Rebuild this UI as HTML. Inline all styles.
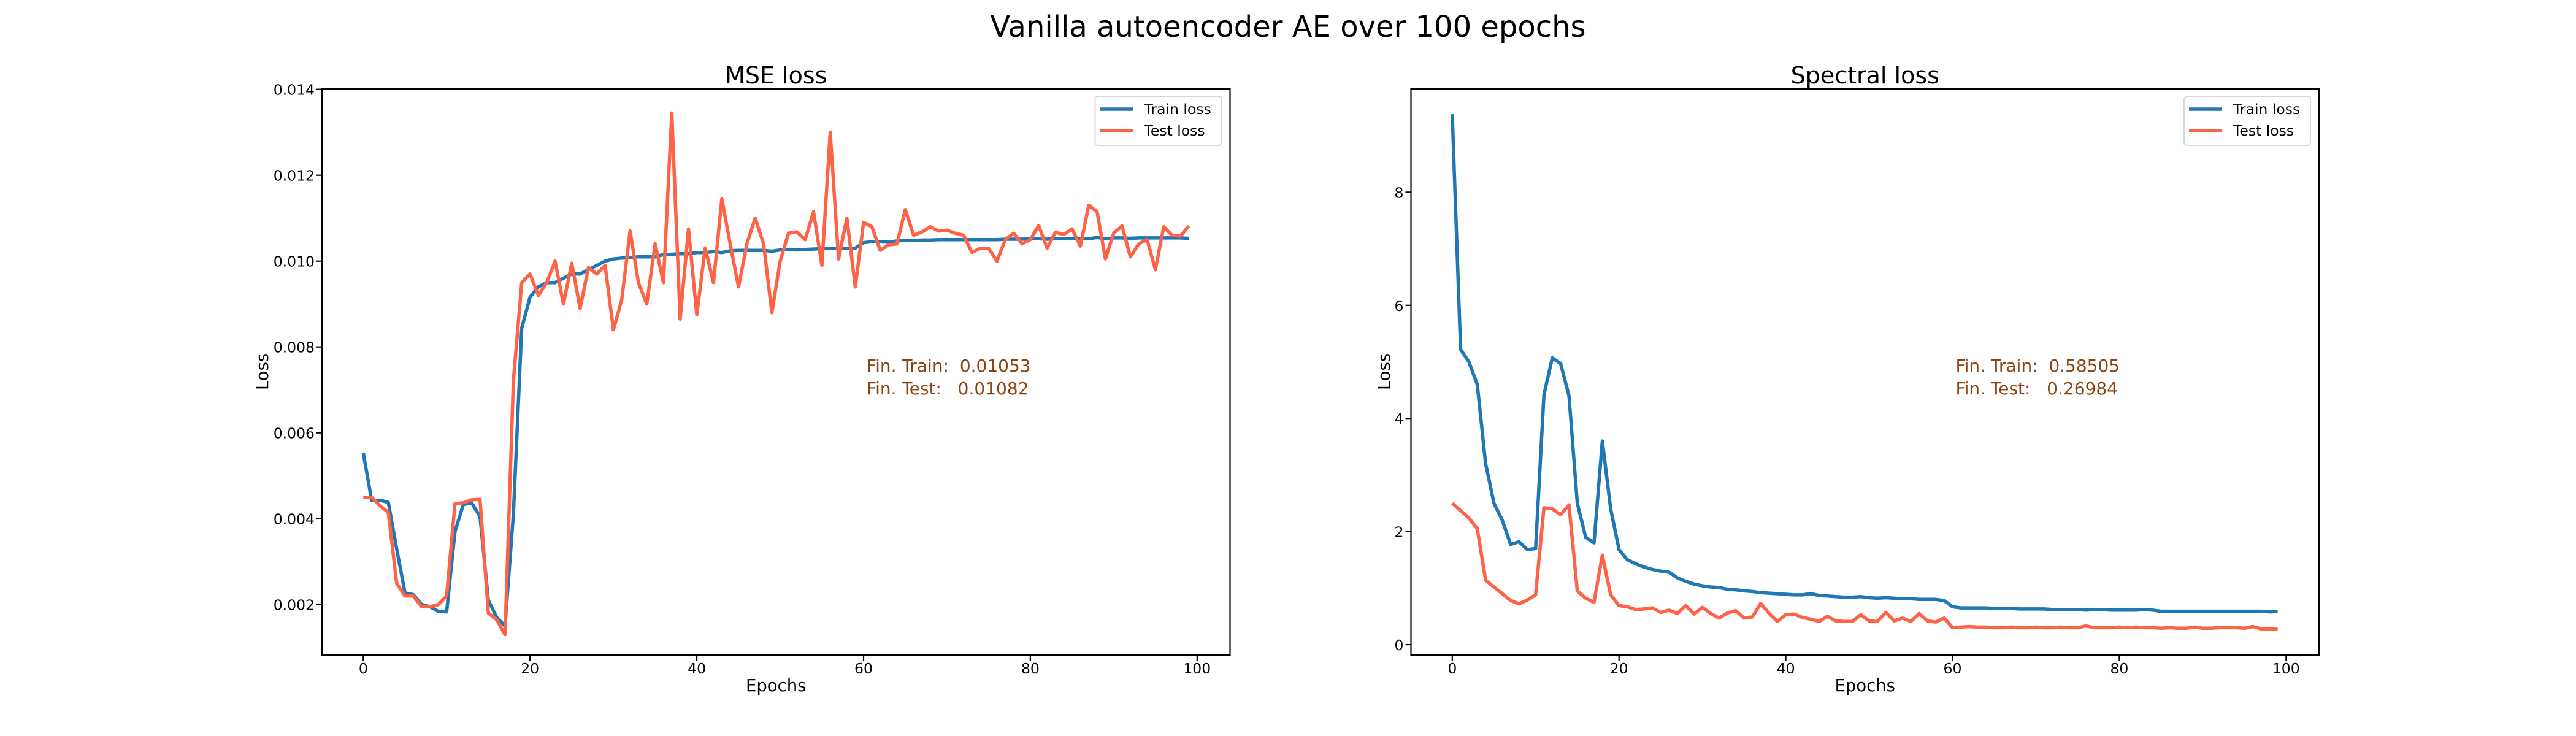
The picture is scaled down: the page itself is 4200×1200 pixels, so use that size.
<!DOCTYPE html>
<html><head><meta charset="utf-8"><style>
html,body{margin:0;padding:0;background:#fff;}
svg{display:block;font-family:"DejaVu Sans","Liberation Sans",sans-serif;}
.pre{white-space:pre;}
</style></head><body>
<svg id="fig" width="4200" height="1200" viewBox="0 0 4200 1200" xmlns="http://www.w3.org/2000/svg">
<text x="2100" y="60" font-size="48" text-anchor="middle">Vanilla autoencoder AE over 100 epochs</text>
</svg>
<script>
const epochs = Array.from({length:100},(_,i)=>i);
const mseTrain = [0.00553,0.00443,0.00443,0.00438,0.0033,0.00227,0.00223,0.00200,0.00195,0.00184,0.00183,0.0037,0.00433,0.00437,0.00405,0.0021,0.0017,0.0015,0.0041,0.00844,0.00916,0.0094,0.0095,0.0095,0.0096,0.0097,0.0097,0.0098,0.0099,0.0100,0.01005,0.01007,0.01008,0.0101,0.0101,0.0101,0.01015,0.01016,0.01017,0.01017,0.0102,0.0102,0.01022,0.0102,0.01024,0.01025,0.01025,0.01025,0.01025,0.01023,0.01026,0.01027,0.01026,0.01027,0.01028,0.01029,0.0103,0.0103,0.0103,0.0103,0.01043,0.01045,0.01045,0.01044,0.01047,0.01048,0.01048,0.01049,0.01049,0.0105,0.0105,0.0105,0.0105,0.0105,0.0105,0.0105,0.0105,0.01051,0.01051,0.01051,0.01052,0.01052,0.01051,0.01052,0.01052,0.01052,0.01052,0.01052,0.01055,0.01052,0.01054,0.01054,0.01053,0.01054,0.01054,0.01054,0.01054,0.01054,0.01054,0.01053];
const mseTest = [0.0045,0.0045,0.0043,0.00415,0.0025,0.0022,0.0022,0.00195,0.00195,0.002,0.0022,0.00435,0.00437,0.00444,0.00445,0.0018,0.00165,0.0013,0.0072,0.0095,0.0097,0.0092,0.0095,0.0100,0.0090,0.00995,0.0089,0.00985,0.0097,0.0099,0.0084,0.0091,0.0107,0.0095,0.0090,0.0104,0.0095,0.01345,0.00865,0.01075,0.00875,0.0103,0.0095,0.01145,0.0104,0.0094,0.0104,0.0110,0.0104,0.0088,0.0100,0.01065,0.01068,0.0105,0.01115,0.0099,0.0130,0.01005,0.0110,0.0094,0.0109,0.0108,0.01025,0.01038,0.0104,0.0112,0.0106,0.01068,0.0108,0.0107,0.01072,0.01065,0.0106,0.0102,0.0103,0.0103,0.0100,0.0105,0.01065,0.0104,0.0105,0.01083,0.0103,0.01067,0.01062,0.01075,0.01035,0.0113,0.01115,0.01005,0.01065,0.01082,0.0101,0.0104,0.0105,0.0098,0.0108,0.0106,0.01058,0.01082];
const specTrain = [9.38,5.22,5.0,4.6,3.2,2.5,2.2,1.77,1.82,1.68,1.7,4.42,5.07,4.97,4.4,2.5,1.9,1.8,3.6,2.4,1.68,1.5,1.43,1.37,1.33,1.3,1.28,1.18,1.12,1.07,1.04,1.02,1.01,0.98,0.97,0.95,0.94,0.92,0.91,0.9,0.89,0.88,0.88,0.9,0.87,0.86,0.85,0.84,0.84,0.85,0.83,0.82,0.83,0.82,0.81,0.81,0.8,0.8,0.8,0.78,0.67,0.65,0.65,0.65,0.65,0.64,0.64,0.64,0.63,0.63,0.63,0.63,0.62,0.62,0.62,0.62,0.61,0.62,0.62,0.61,0.61,0.61,0.61,0.62,0.61,0.59,0.59,0.59,0.59,0.59,0.59,0.59,0.59,0.59,0.59,0.59,0.59,0.59,0.58,0.585];
const specTest = [2.5,2.37,2.24,2.05,1.14,1.02,0.9,0.78,0.72,0.79,0.88,2.42,2.4,2.3,2.47,0.95,0.82,0.75,1.58,0.88,0.69,0.67,0.62,0.63,0.65,0.57,0.61,0.55,0.69,0.54,0.66,0.55,0.47,0.56,0.6,0.47,0.49,0.73,0.55,0.41,0.53,0.54,0.48,0.45,0.41,0.5,0.42,0.41,0.41,0.53,0.42,0.41,0.57,0.42,0.47,0.41,0.55,0.42,0.4,0.47,0.3,0.31,0.32,0.31,0.31,0.3,0.3,0.31,0.3,0.3,0.31,0.3,0.3,0.31,0.3,0.3,0.33,0.3,0.3,0.3,0.31,0.3,0.31,0.3,0.3,0.29,0.3,0.29,0.29,0.31,0.29,0.29,0.3,0.3,0.3,0.29,0.32,0.28,0.28,0.27];
const xTicks = [0,20,40,60,80,100];
const mseYTicks = [0.002,0.004,0.006,0.008,0.010,0.012,0.014];
const mseYTickLabels = ["0.002","0.004","0.006","0.008","0.010","0.012","0.014"];
const specYTicks = [0,2,4,6,8];
const specYTickLabels = ["0","2","4","6","8"];

const NS="http://www.w3.org/2000/svg";
const svg=document.getElementById('fig');
function mk(tag,attrs,parent){const e=document.createElementNS(NS,tag);for(const k in attrs)e.setAttribute(k,attrs[k]);(parent||svg).appendChild(e);return e;}

function panel(cfg){
  const g=mk('g',{});
  
  
  const L=cfg.left,R=cfg.left+1480.5,T=145,B=1068;
  const xs=v=>L+(v+4.95)*(R-L)/108.9;
  const ys=v=>T+(cfg.ymax-v)*(B-T)/(cfg.ymax-cfg.ymin);
  [[cfg.train,'#1f77b4','train-loss-line'],[cfg.test,'#ff6347','test-loss-line']].forEach(([arr,col,nm])=>{
    const d=arr.map((v,i)=>(i?'L':'M')+xs(epochs[i]).toFixed(1)+' '+ys(v).toFixed(1)).join(' ');
    const p=mk('path',{d:d,fill:'none',stroke:col,'stroke-width':5.5,'stroke-linejoin':'round'},g);
    
    
  });
  const fr=mk('rect',{x:L,y:T,width:R-L,height:B-T,fill:'none',stroke:'#000','stroke-width':2.2},g);
  
  
  xTicks.forEach(v=>{
    const x=xs(v);
    mk('line',{x1:x,x2:x,y1:B,y2:B+9,stroke:'#000','stroke-width':2.2},g);
    const t=mk('text',{x:x,y:B+30,'font-size':23.5,'text-anchor':'middle'},g);
    t.textContent=v;
    
    
  });
  cfg.yTicks.forEach((v,i)=>{
    const y=ys(v);
    mk('line',{x1:L-9,x2:L,y1:y,y2:y,stroke:'#000','stroke-width':2.2},g);
    const t=mk('text',{x:L-12,y:y+9,'font-size':23.5,'text-anchor':'end'},g);
    t.textContent=cfg.yLabels[i];
    
    
  });
  const tt=mk('text',{x:(L+R)/2,y:136,'font-size':38,'text-anchor':'middle'},g);
  tt.textContent=cfg.title;
  
  
  const xl=mk('text',{x:(L+R)/2,y:1127,'font-size':27.5,'text-anchor':'middle'},g);
  xl.textContent='Epochs';
  
  
  const yl=mk('text',{x:cfg.ylabX,y:606,'font-size':27.5,'text-anchor':'middle',transform:'rotate(-90 '+cfg.ylabX+' 606)'},g);
  yl.textContent='Loss';
  
  
  const a1=mk('text',{x:L+888,y:606,'font-size':28,fill:'#8b4513','class':'pre'},g);
  a1.textContent=cfg.ann1;
  
  
  const a2=mk('text',{x:L+888,y:643,'font-size':28,fill:'#8b4513','class':'pre'},g);
  a2.textContent=cfg.ann2;
  
  
  const lg=mk('g',{},g);
  
  
  const lx=R-220;
  mk('rect',{x:lx,y:157,width:206,height:80,rx:5,fill:'#fff',stroke:'#d8d8d8','stroke-width':2},lg);
  [['Train loss','#1f77b4',178],['Test loss','#ff6347',213]].forEach(([lab,col,y])=>{
    const e=mk('g',{},lg);
    
    
    mk('line',{x1:lx+8,x2:lx+62,y1:y,y2:y,stroke:col,'stroke-width':5.5},e);
    const t=mk('text',{x:lx+80,y:y+8,'font-size':23.5},e);
    t.textContent=lab;
  });
}
panel({name:'mse-loss-panel',left:525,ymax:0.01401,ymin:0.000824,train:mseTrain,test:mseTest,yTicks:mseYTicks,yLabels:mseYTickLabels,title:'MSE loss',ylabX:437,ann1:'Fin. Train:  0.01053',ann2:'Fin. Test:   0.01082'});
panel({name:'spectral-loss-panel',left:2300.5,ymax:9.826,ymin:-0.184,train:specTrain,test:specTest,yTicks:specYTicks,yLabels:specYTickLabels,title:'Spectral loss',ylabX:2266,ann1:'Fin. Train:  0.58505',ann2:'Fin. Test:   0.26984'});
</script>
</body></html>
